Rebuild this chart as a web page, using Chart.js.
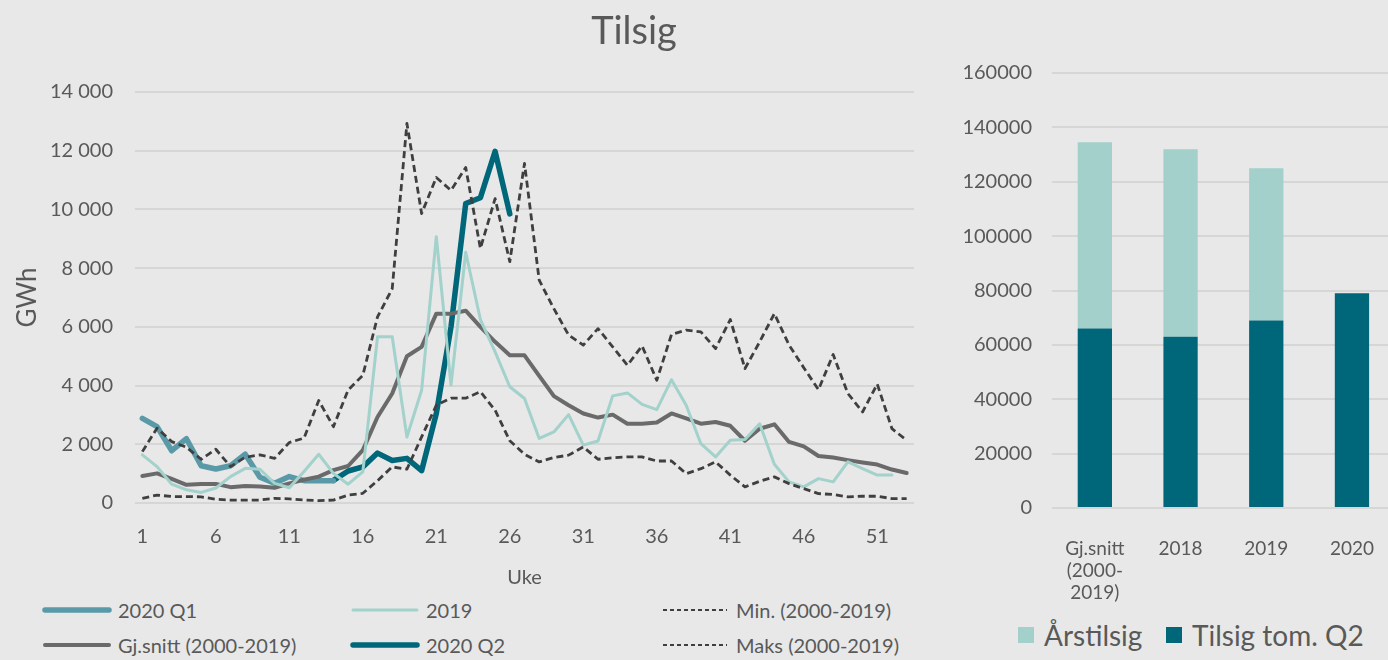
<!DOCTYPE html>
<html>
<head>
<meta charset="utf-8">
<script src="https://cdn.jsdelivr.net/npm/chart.js@4"></script>
<style>
  body { margin: 0; background: #e7e8e7; font-family: Lato, sans-serif; color: #595959; }
  #wrap { position: relative; width: 1388px; height: 660px; overflow: hidden; }
  #title { position: absolute; left: 534px; width: 200px; top: 6px; text-align: center; font-size: 38px; }
  #lineBox { position: absolute; left: 0; top: 0; width: 930px; height: 590px; }
  #barBox { position: absolute; left: 940px; top: 0; width: 464px; height: 610px; }
  .leg { position: absolute; font-size: 20px; display: flex; align-items: center; white-space: nowrap; }
  .leg svg { margin-right: 6px; }
  .leg2 { position: absolute; font-size: 28px; display: flex; align-items: center; white-space: nowrap; }
  .sq { width: 16px; height: 16px; margin-right: 10px; }
</style>
</head>
<body>
<div id="wrap">
  <div id="lineBox"><canvas id="lineChart"></canvas></div>
  <div id="barBox"><canvas id="barChart"></canvas></div>
  <div id="title">Tilsig</div>
  <div id="legend"></div>
  <div id="legend2"></div>
</div>
<script>
// weeks 1-53
const weeks = Array.from({ length: 53 }, (_, i) => String(i + 1));

const q1 = [2880, 2600, 1780, 2190, 1270, 1160, 1270, 1660, 880, 670,
  900, 760, 760, 760];
const q2 = [null, null, null, null, null, null, null, null, null, null,
  null, null, null, 770, 1090, 1230, 1700, 1450, 1520, 1100,
  3050, 6000, 10200, 10400, 11980, 9850];
const y2019 = [1640, 1240, 640, 450, 360, 510, 900, 1180, 1150, 670,
  520, 1070, 1660, 1010, 640, 1060, 5660, 5660, 2250, 3840,
  9070, 4020, 8540, 6250, 5150, 3960, 3560, 2200, 2420, 3010,
  1970, 2110, 3650, 3750, 3360, 3180, 4200, 3330, 2020, 1570,
  2140, 2160, 2700, 1320, 720, 550, 830, 720, 1400, 1170,
  950, 950];
const snitt = [920, 1010, 820, 620, 650, 650, 540, 580, 560, 520,
  670, 790, 900, 1120, 1260, 1800, 2930, 3730, 5000, 5320,
  6450, 6450, 6550, 6000, 5490, 5030, 5030, 4330, 3640, 3330,
  3050, 2910, 3010, 2700, 2700, 2740, 3050, 2880, 2700, 2760,
  2630, 2120, 2530, 2680, 2080, 1930, 1600, 1550, 1460, 1380,
  1310, 1140, 1020];
const minVal = [160, 270, 220, 220, 210, 130, 100, 100, 100, 160,
  140, 100, 80, 100, 270, 330, 760, 1230, 1150, 2250,
  3330, 3570, 3570, 3790, 3160, 2120, 1660, 1400, 1550, 1630,
  1910, 1490, 1540, 1570, 1570, 1430, 1430, 1000, 1170, 1400,
  950, 550, 740, 890, 660, 490, 320, 290, 210, 230,
  230, 150, 150];
const maxVal = [1750, 2550, 2090, 1900, 1490, 1830, 1240, 1560, 1640, 1520,
  2060, 2210, 3490, 2600, 3850, 4350, 6340, 7300, 12930, 9860,
  11090, 10650, 11430, 8670, 10370, 8220, 11570, 7590, 6620, 5720,
  5380, 5940, 5320, 4690, 5350, 4180, 5740, 5890, 5830, 5260,
  6250, 4580, 5490, 6450, 5380, 4610, 3860, 5060, 3730, 3100,
  4050, 2530, 2140];

// right chart
const barLabels = [["Gj.snitt", "(2000-", "2019)"], "2018", "2019", "2020"];
const tilsigQ2 = [66000, 63000, 69000, 79000];
const arsTotal = [134500, 132000, 125000, null];

const txt = '#595959';
const grid = '#d5d6d5';
Chart.defaults.font.family = 'Lato, sans-serif';
Chart.defaults.color = txt;

function line(label, data, color, width, dash) {
  return {
    label: label,
    data: data,
    borderColor: color,
    backgroundColor: color,
    borderWidth: width,
    borderDash: dash || [],
    pointRadius: 0,
    tension: 0,
    borderCapStyle: dash ? 'butt' : 'round',
    borderJoinStyle: 'round',
    spanGaps: false
  };
}

const lineDefs = [
  ['Min. (2000-2019)', minVal, '#3f3f3f', 2.8, [7, 4]],
  ['Maks (2000-2019)', maxVal, '#3f3f3f', 2.8, [7, 4]],
  ['2019', y2019, '#a3d1cb', 3],
  ['Gj.snitt (2000-2019)', snitt, '#6a6a6a', 4],
  ['2020 Q1', q1, '#5a9aa8', 5.5],
  ['2020 Q2', q2, '#006679', 5.5]
];

new Chart(document.getElementById('lineChart'), {
  type: 'line',
  data: {
    labels: weeks,
    datasets: lineDefs.map(d => line(d[0], d[1], d[2], d[3], d[4]))
  },
  options: {
    responsive: true,
    maintainAspectRatio: false,
    animation: false,
    layout: { padding: { top: 92, right: 16, left: 0, bottom: 0 } },
    plugins: { legend: { display: false }, tooltip: { enabled: false } },
    scales: {
      x: {
        offset: true,
        grid: { display: false, drawTicks: false },
        border: { display: false },
        ticks: {
          autoSkip: false, maxRotation: 0, padding: 22,
          font: { size: 20 }, color: txt,
          callback: function (v, i) { return i % 5 === 0 ? weeks[i] : ''; }
        },
        title: { display: true, text: 'Uke', font: { size: 20 }, color: txt, padding: 0 },
        afterFit: s => { s.height = 87; }
      },
      y: {
        min: 0, max: 14000,
        grid: { color: grid, lineWidth: 2, drawTicks: false },
        border: { display: false },
        ticks: {
          stepSize: 2000, padding: 22, font: { size: 20 }, color: txt,
          callback: v => v >= 1000 ? Math.floor(v / 1000) + ' ' + String(v % 1000).padStart(3, '0') : String(v)
        },
        title: { display: true, text: 'GWh', font: { size: 26 }, color: txt, padding: { top: 12, bottom: 0 } },
        afterFit: s => { s.width = 135; }
      }
    }
  }
});

new Chart(document.getElementById('barChart'), {
  type: 'bar',
  data: {
    labels: barLabels,
    datasets: [
      {
        label: 'Tilsig tom. Q2',
        data: tilsigQ2,
        backgroundColor: '#00667a',
        barPercentage: 1, categoryPercentage: 0.4
      },
      {
        label: 'Årstilsig',
        data: arsTotal.map((t, i) => t === null ? null : t - tilsigQ2[i]),
        backgroundColor: '#a3d0cb',
        barPercentage: 1, categoryPercentage: 0.4
      }
    ]
  },
  options: {
    responsive: true,
    maintainAspectRatio: false,
    animation: false,
    layout: { padding: { top: 73, right: 0, left: 0, bottom: 0 } },
    plugins: { legend: { display: false }, tooltip: { enabled: false } },
    scales: {
      x: {
        stacked: true,
        grid: { display: false, drawTicks: false },
        border: { display: false },
        ticks: { maxRotation: 0, padding: 30, font: { size: 19, lineHeight: 1.15 }, color: txt },
        afterFit: s => { s.height = 102; }
      },
      y: {
        stacked: true,
        min: 0, max: 160000,
        grid: { color: grid, lineWidth: 2, drawTicks: false },
        border: { display: false },
        ticks: { stepSize: 20000, padding: 20, font: { size: 20 }, color: txt, callback: v => String(v) },
        afterFit: s => { s.width = 112; }
      }
    }
  }
});

// legend for the line chart, three columns
const legendItems = [
  ['2020 Q1', '#5a9aa8', 5.5, null, 42, 610],
  ['2019', '#a3d1cb', 3, null, 350, 610],
  ['Min. (2000-2019)', '#3f3f3f', 2, '4,3', 660, 610],
  ['Gj.snitt (2000-2019)', '#6a6a6a', 4, null, 42, 645],
  ['2020 Q2', '#006679', 5.5, null, 350, 645],
  ['Maks (2000-2019)', '#3f3f3f', 2, '4,3', 660, 645]
];
let html = '';
legendItems.forEach(it => {
  const dash = it[3] ? ` stroke-dasharray="${it[3]}"` : '';
  const cap = it[3] ? 'butt' : 'round';
  html += `<div class="leg" style="left:${it[4]}px;top:${it[5] - 13}px;height:26px">` +
    `<svg width="70" height="10"><line x1="3" y1="5" x2="67" y2="5" stroke="${it[1]}" stroke-width="${it[2]}" stroke-linecap="${cap}"${dash}/></svg>` +
    `<span>${it[0]}</span></div>`;
});
document.getElementById('legend').innerHTML = html;

document.getElementById('legend2').innerHTML =
  '<div class="leg2" style="left:1018px;top:618px"><div class="sq" style="background:#a3d0cb"></div>Årstilsig</div>' +
  '<div class="leg2" style="left:1166px;top:618px"><div class="sq" style="background:#00667a"></div>Tilsig tom. Q2</div>';
</script>
</body>
</html>
